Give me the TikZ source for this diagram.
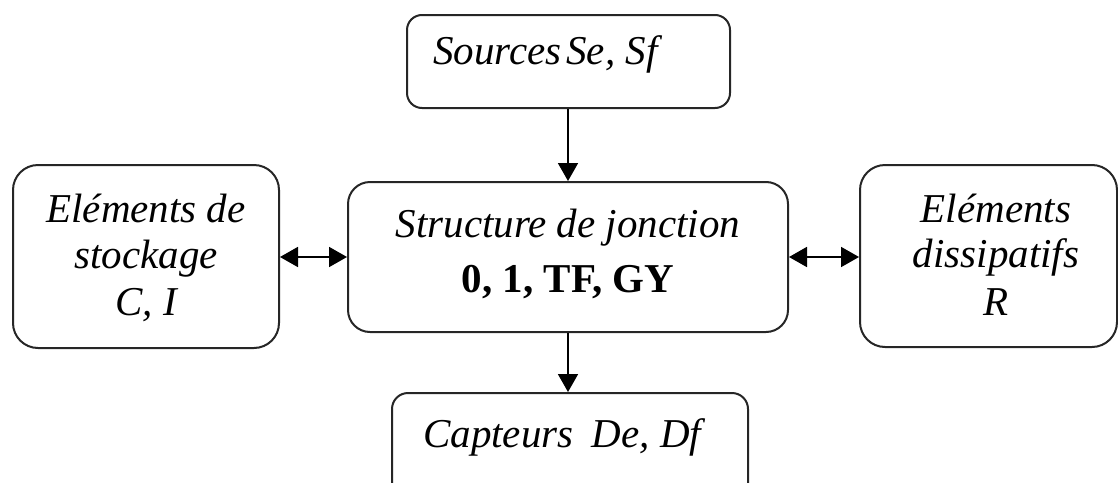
\documentclass[tikz,border=0pt]{standalone}
\usepackage{fontspec}
\setmainfont{Liberation Serif}
\usetikzlibrary{arrows.meta}

\tikzset{
  block/.style={draw=black!85, line width=2pt, fill=white, inner sep=0pt},
  lbl/.style={font=\fontsize{41}{49}\selectfont\itshape, align=center, inner sep=0pt},
  link/.style={line width=1.8pt, -{Triangle[length=18pt,width=20pt]}},
  dlink/.style={line width=1.8pt, {Triangle[length=18pt,width=20pt]}-{Triangle[length=18pt,width=20pt]}},
}

\begin{document}
\begin{tikzpicture}[x=1pt, y=-1pt]
\useasboundingbox (0,0) rectangle (1118,482);
\clip (0,0) rectangle (1118,482);

% blocks
\node[block, rounded corners=15pt, minimum width=323pt, minimum height=93pt] (src) at (568.5,61.5) {};
\node[block, rounded corners=25pt, minimum width=266pt, minimum height=183pt] (sto) at (146,256.5) {};
\node[block, rounded corners=22pt, minimum width=440pt, minimum height=150pt] (jct) at (568,257) {};
\node[block, rounded corners=25pt, minimum width=257pt, minimum height=182pt] (dis) at (988.5,256) {};
\node[block, rounded corners=16pt, minimum width=356pt, minimum height=106pt] (cap) at (570,446) {};

% texts
\node[lbl, anchor=base west] (tsrc) at (433,64) {Sources\hspace{0.12em}Se, Sf};
\node[lbl, anchor=base] (tsto1) at (146,222) {Eléments de};
\node[lbl, anchor=base] (tsto2) at (146,268) {stockage};
\node[lbl, anchor=base] (tsto3) at (146,315) {C, I};
\node[lbl, anchor=base] (tjct1) at (568,237) {Structure de jonction};
\node[lbl, anchor=base, font=\fontsize{41}{49}\selectfont\bfseries] (tjct2) at (568,292) {0, 1, TF, GY};
\node[lbl, anchor=base] (tdis1) at (996,222) {Eléments};
\node[lbl, anchor=base] (tdis2) at (996,267) {dissipatifs};
\node[lbl, anchor=base] (tdis3) at (996,315) {R};
\node[lbl, anchor=base west] (tcap) at (423,447) {Capteurs\hspace{0.45em}De, Df};

% connectors
\draw[link] (jct.north |- src.south) -- (jct.north);
\draw[link] (jct.south) -- (jct.south |- cap.north);
\draw[dlink] (sto.east |- jct.west) -- (jct.west);
\draw[dlink] (jct.east) -- (dis.west |- jct.east);
\end{tikzpicture}
\end{document}
